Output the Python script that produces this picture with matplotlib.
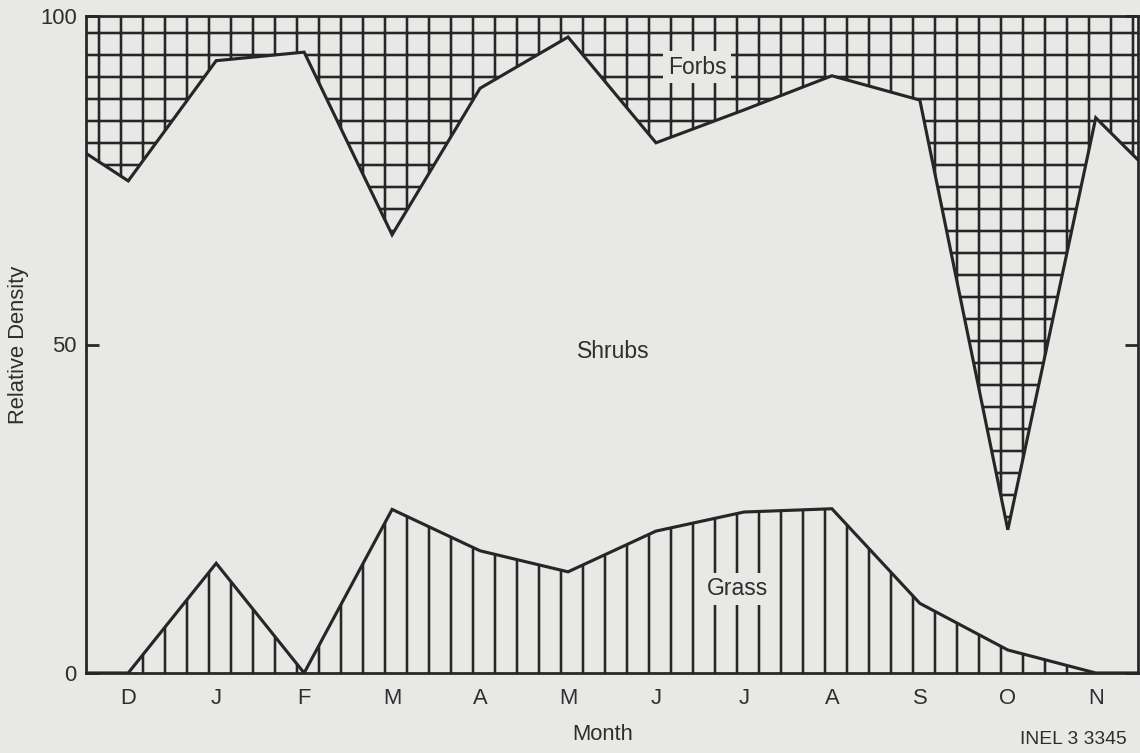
import numpy as np
import matplotlib
matplotlib.use("Agg")
import matplotlib.pyplot as plt

# Relative density by month (stacked: grass, shrubs, forbs)
months = ['D', 'J', 'F', 'M', 'A', 'M', 'J', 'J', 'A', 'S', 'O', 'N']
grass = [0.0, 16.7, 0.0, 24.9, 18.6, 15.4, 21.6, 24.5, 25.0, 10.6, 3.5, 0.0]
shrubs = [74.9, 76.5, 94.5, 41.8, 70.4, 81.4, 59.1, 61.2, 65.9, 76.6, 18.3, 84.5]
# values where the curves meet the left / right frame
grass_edges = [0.0, 0.0]
shrubs_edges = [79.1, 78.1]

x_min, x_max = -0.48, 11.48
paper = '#e8e8e6'
ink = '#262626'
text_col = '#2e2e2e'

plt.rcParams['font.family'] = ['Liberation Sans', 'DejaVu Sans']
plt.rcParams['hatch.color'] = ink
plt.rcParams['hatch.linewidth'] = 1.4

# build arrays including frame edges
x = np.concatenate([[x_min], np.arange(len(months)), [x_max]])
g = np.concatenate([[grass_edges[0]], grass, [grass_edges[1]]])
s = np.concatenate([[shrubs_edges[0]], shrubs, [shrubs_edges[1]]])
top = g + s

fig = plt.figure(figsize=(1140 / 132, 753 / 132), dpi=132, facecolor=paper)
ax = fig.add_axes([86 / 1140, 80 / 753, 1052 / 1140, 657 / 753])
ax.set_facecolor(paper)

# Grass: vertical hatching
ax.fill_between(x, 0, g, facecolor=paper, edgecolor=ink, hatch='|', linewidth=0)
# Forbs: grid hatching
ax.fill_between(x, top, 100, facecolor=paper, edgecolor=ink, hatch='+', linewidth=0)

ax.plot(x, g, color=ink, linewidth=1.7, solid_joinstyle='miter')
ax.plot(x, top, color=ink, linewidth=1.7, solid_joinstyle='miter')

ax.set_xlim(x_min, x_max)
ax.set_ylim(0, 100)
ax.set_xticks(np.arange(len(months)))
ax.set_xticklabels(months)
ax.set_yticks([0, 50, 100])
ax.set_yticklabels(['0', '50', '100'])

ax.tick_params(axis='x', length=0, pad=8, labelsize=12, labelcolor=text_col)
ax.tick_params(axis='y', direction='in', length=7, width=1.5, color=ink,
               left=True, right=True, pad=5, labelsize=12, labelcolor=text_col)
for sp in ax.spines.values():
    sp.set_color(ink)
    sp.set_linewidth(1.5)

ax.set_ylabel('Relative Density', fontsize=12, color=text_col, va='center')
ax.yaxis.set_label_coords(-0.064, 0.5)
ax.set_xlabel('Month', fontsize=12, color=text_col, va='center')
ax.xaxis.set_label_coords(0.491, -0.094)

box = dict(facecolor=paper, edgecolor='none', pad=2.5)
ax.text(6.47, 92.2, 'Forbs', fontsize=12.5, color=text_col, ha='center', va='center', bbox=box)
ax.text(5.51, 48.9, 'Shrubs', fontsize=12.5, color=text_col, ha='center', va='center')
ax.text(6.93, 12.8, 'Grass', fontsize=12.5, color=text_col, ha='center', va='center', bbox=box)

fig.text(1127 / 1140, 1 - 740 / 753, 'INEL 3 3345', fontsize=10.5, color=text_col,
         ha='right', va='center')

fig.savefig('out.png', dpi=132, facecolor=paper)
